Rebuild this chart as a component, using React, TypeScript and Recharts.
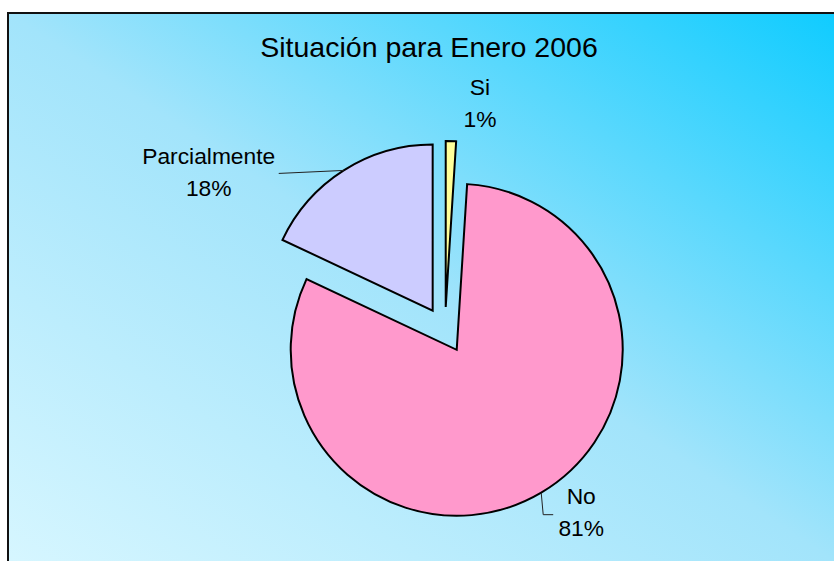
import { PieChart, Pie, Cell, Sector } from 'recharts'

const categories = ['Si', 'No', 'Parcialmente']
const shares = [1, 81, 18]
const sliceColors = ['#ffff99', '#ff99cc', '#ccccff']

const data = categories.map((name, i) => ({ name, value: shares[i] }))

const RAD = Math.PI / 180
const EXPLODE = 23
const FONT = '"Liberation Sans", Arial, Helvetica, sans-serif'

// label placement relative to the middle of each slice's arc (px)
const labelLayout: Record<string, { leader: number[][] | null; dx: number; dy: number }> = {
  Si: { leader: null, dx: 29, dy: -38 },
  Parcialmente: { leader: [[0, 0], [-65, 3]], dx: -70, dy: -1 },
  No: { leader: [[0, 0], [2, 22], [12, 22]], dx: 28, dy: -3 },
}

function explodedCenter(cx: number, cy: number, midAngle: number) {
  return [cx + EXPLODE * Math.cos(-midAngle * RAD), cy + EXPLODE * Math.sin(-midAngle * RAD)]
}

function ExplodedSector(props: any) {
  const [x, y] = explodedCenter(props.cx, props.cy, props.midAngle)
  return <Sector {...props} cx={x} cy={y} />
}

function SliceLabel(props: any) {
  const { cx, cy, midAngle, outerRadius, percent } = props
  const name = props.name ?? props.payload?.name
  const layout = labelLayout[name]
  if (!layout) return null
  const [ex, ey] = explodedCenter(cx, cy, midAngle)
  const px = ex + outerRadius * Math.cos(-midAngle * RAD)
  const py = ey + outerRadius * Math.sin(-midAngle * RAD)
  let ax = px
  let ay = py
  let points = ''
  if (layout.leader) {
    points = layout.leader.map(([lx, ly]) => `${px + lx},${py + ly}`).join(' ')
    const last = layout.leader[layout.leader.length - 1]
    ax = px + last[0]
    ay = py + last[1]
  }
  const tx = ax + layout.dx
  const ty = ay + layout.dy
  return (
    <g>
      {points && <polyline points={points} fill="none" stroke="#222" strokeWidth={1} />}
      <text x={tx} y={ty - 16} textAnchor="middle" dominantBaseline="central" fontFamily={FONT} fontSize={22.8} fill="#000">
        {name}
      </text>
      <text x={tx} y={ty + 16} textAnchor="middle" dominantBaseline="central" fontFamily={FONT} fontSize={22.8} fill="#000">
        {`${Math.round(percent * 100)}%`}
      </text>
    </g>
  )
}

export default function App() {
  return (
    <div style={{ position: 'fixed', left: 0, top: 0, width: 834, height: 561, overflow: 'hidden', background: '#fff' }}>
      <div
        style={{
          position: 'absolute',
          left: 7,
          top: 12,
          width: 827,
          height: 549,
          boxSizing: 'border-box',
          borderLeft: '2px solid #111',
          borderTop: '2px solid #111',
          background: 'linear-gradient(to top right, #d6f6ff 0%, #a2e4fb 50%, #10ccff 100%)',
        }}
      />
      <div
        style={{
          position: 'absolute',
          left: 0,
          top: 31,
          width: 858,
          textAlign: 'center',
          fontFamily: FONT,
          fontSize: 28.5,
          lineHeight: '32px',
          color: '#000',
        }}
      >
        Situación para Enero 2006
      </div>
      <div style={{ position: 'absolute', left: 8, top: 13 }}>
        <PieChart width={826} height={548} margin={{ top: 0, right: 0, bottom: 0, left: 0 }}>
          <Pie
            data={data}
            dataKey="value"
            nameKey="name"
            cx={437}
            cy={317}
            outerRadius={166}
            startAngle={90}
            endAngle={-270}
            stroke="#000"
            strokeWidth={2}
            shape={ExplodedSector}
            activeShape={ExplodedSector}
            inactiveShape={ExplodedSector}
            label={SliceLabel}
            labelLine={false}
            isAnimationActive={false}
          >
            {data.map((d, i) => (
              <Cell key={d.name} fill={sliceColors[i]} />
            ))}
          </Pie>
        </PieChart>
      </div>
    </div>
  )
}
